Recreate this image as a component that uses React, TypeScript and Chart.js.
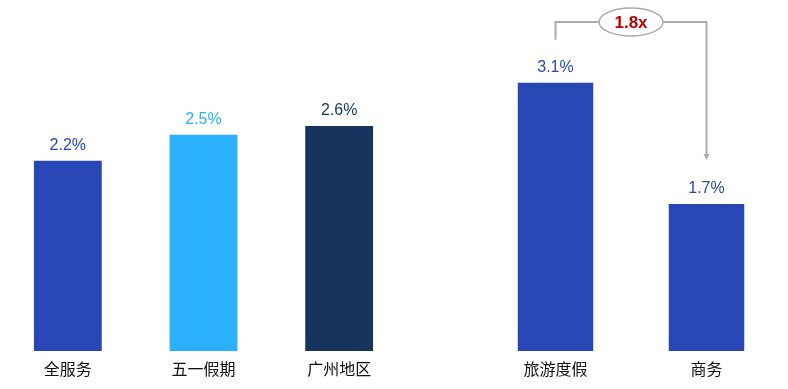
import React, { useEffect, useRef } from "react";
import { Chart, registerables } from "chart.js";

Chart.register(...registerables);

const leftCategories = ["全服务", "五一假期", "广州地区"];
const leftValues = [2.2, 2.5, 2.6];
const leftColors = ["#2946B5", "#2BB0FC", "#16345C"];

const rightCategories = ["旅游度假", "商务"];
const rightValues = [3.1, 1.7];
const rightColors = ["#2946B5", "#2946B5"];

const FONT = '"Liberation Sans", "Noto Sans CJK SC", sans-serif';

const valueLabelPlugin = {
  id: "valueLabels",
  afterDatasetsDraw(chart: any) {
    const ctx = chart.ctx;
    const meta = chart.getDatasetMeta(0);
    const ds = chart.data.datasets[0];
    ctx.save();
    ctx.font = `16px ${FONT}`;
    ctx.textAlign = "center";
    ctx.textBaseline = "alphabetic";
    meta.data.forEach((bar: any, i: number) => {
      ctx.fillStyle = ds.backgroundColor[i];
      ctx.fillText(`${ds.data[i]}%`, bar.x, bar.y - 11);
    });
    ctx.restore();
  },
};

const bracketPlugin = {
  id: "bracket",
  afterDatasetsDraw(chart: any) {
    const ctx = chart.ctx;
    const meta = chart.getDatasetMeta(0);
    const ds = chart.data.datasets[0];
    const a = meta.data[0];
    const b = meta.data[1];
    const topY = 22;
    const startY = a.y - 43;
    const endY = b.y - 44;
    const midX = (a.x + b.x) / 2;
    const rx = 32;
    const ry = 14;
    ctx.save();
    ctx.strokeStyle = "#ABABAB";
    ctx.lineWidth = 2;
    ctx.beginPath();
    ctx.moveTo(a.x, startY);
    ctx.lineTo(a.x, topY);
    ctx.lineTo(midX - rx, topY);
    ctx.moveTo(midX + rx, topY);
    ctx.lineTo(b.x, topY);
    ctx.lineTo(b.x, endY - 4);
    ctx.stroke();
    ctx.fillStyle = "#ABABAB";
    ctx.beginPath();
    ctx.moveTo(b.x - 3, endY - 6);
    ctx.lineTo(b.x + 3, endY - 6);
    ctx.lineTo(b.x, endY);
    ctx.closePath();
    ctx.fill();
    ctx.beginPath();
    ctx.ellipse(midX, topY, rx, ry, 0, 0, Math.PI * 2);
    ctx.fillStyle = "#FFFFFF";
    ctx.fill();
    ctx.lineWidth = 1.5;
    ctx.stroke();
    const ratio = (ds.data[0] / ds.data[1]).toFixed(1);
    ctx.fillStyle = "#C00000";
    ctx.font = `bold 17px ${FONT}`;
    ctx.textAlign = "center";
    ctx.textBaseline = "middle";
    ctx.fillText(`${ratio}x`, midX, topY + 1);
    ctx.restore();
  },
};

function makeConfig(labels: string[], values: number[], colors: string[], plugins: any[]) {
  return {
    type: "bar" as const,
    data: {
      labels,
      datasets: [
        {
          data: values,
          backgroundColor: colors,
          barPercentage: 0.5,
          categoryPercentage: 1,
        },
      ],
    },
    options: {
      animation: false as const,
      responsive: false,
      layout: { padding: { top: 5, bottom: 0, left: 0, right: 0 } },
      plugins: { legend: { display: false }, tooltip: { enabled: false } },
      scales: {
        y: { display: false, min: 0, max: 4 },
        x: {
          grid: { display: false, drawTicks: false },
          border: { display: false },
          ticks: { color: "#111111", font: { size: 16, family: FONT }, padding: 10 },
          afterFit(scale: any) {
            scale.height = 38;
          },
        },
      },
    },
    plugins,
  };
}

export default function App() {
  const leftRef = useRef<HTMLCanvasElement>(null);
  const rightRef = useRef<HTMLCanvasElement>(null);
  useEffect(() => {
    const c1 = new Chart(leftRef.current!, makeConfig(leftCategories, leftValues, leftColors, [valueLabelPlugin]) as any);
    const c2 = new Chart(
      rightRef.current!,
      makeConfig(rightCategories, rightValues, rightColors, [valueLabelPlugin, bracketPlugin]) as any
    );
    return () => {
      c1.destroy();
      c2.destroy();
    };
  }, []);
  return (
    <div style={{ position: "fixed", left: 0, top: 0, width: 788, height: 389, background: "#fff" }}>
      <canvas ref={leftRef} width={407} height={389} style={{ position: "absolute", left: 0, top: 0 }} />
      <canvas ref={rightRef} width={302} height={389} style={{ position: "absolute", left: 480, top: 0 }} />
    </div>
  );
}
